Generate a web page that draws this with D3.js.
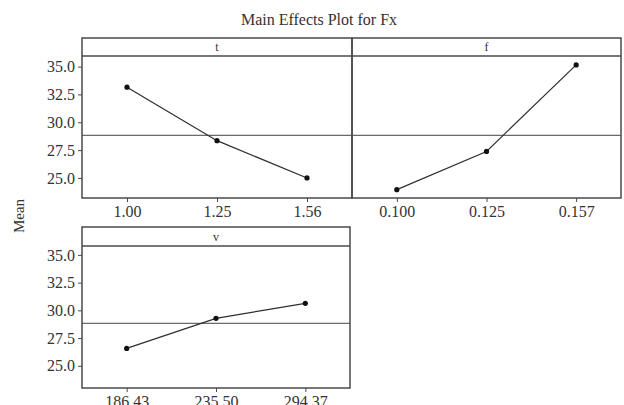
<!DOCTYPE html>
<html>
<head>
<meta charset="utf-8">
<script src="https://cdn.jsdelivr.net/npm/d3@7"></script>
<style>
  html, body { margin: 0; padding: 0; background: #fff; }
  svg { display: block; }
  text { font-family: "Liberation Serif", "DejaVu Serif", serif; fill: #333; }
</style>
</head>
<body>
<svg id="chart" width="624" height="405"></svg>
<script>
// Factor levels and the mean response at each level
const tLevels = ["1.00", "1.25", "1.56"];
const tMeans  = [33.15, 28.35, 25.0];

const fLevels = ["0.100", "0.125", "0.157"];
const fMeans  = [23.95, 27.38, 35.15];

const vLevels = ["186.43", "235.50", "294.37"];
const vMeans  = [26.57, 29.28, 30.63];

const yTicks = [25.0, 27.5, 30.0, 32.5, 35.0];

const grandMean = d3.mean(tMeans.concat(fMeans, vMeans));

const svg = d3.select("#chart");

svg.append("text")
  .attr("x", 319).attr("y", 25)
  .attr("text-anchor", "middle")
  .style("font-size", "16px")
  .text("Main Effects Plot for Fx");

svg.append("text")
  .attr("transform", "translate(24,216) rotate(-90)")
  .attr("text-anchor", "middle")
  .style("font-size", "15px")
  .text("Mean");

const panels = [
  { name: "t", levels: tLevels, means: tMeans, x0: 82,  x1: 352, top: 38,  strip: 18, bottom: 198, yDomain: [23.2, 35.95], yAxis: true },
  { name: "f", levels: fLevels, means: fMeans, x0: 352, x1: 621, top: 38,  strip: 18, bottom: 198, yDomain: [23.2, 35.95], yAxis: false },
  { name: "v", levels: vLevels, means: vMeans, x0: 82,  x1: 350, top: 227, strip: 19, bottom: 388, yDomain: [23.0, 35.8], yAxis: true }
];

const frame = "#4a4a4a";

panels.forEach(p => {
  const g = svg.append("g");
  const plotTop = p.top + p.strip;

  const x = d3.scalePoint().domain(p.levels).range([p.x0, p.x1]).padding(0.5);
  const y = d3.scaleLinear().domain(p.yDomain).range([p.bottom, plotTop]);

  // reference line at the grand mean
  g.append("line")
    .attr("x1", p.x0).attr("x2", p.x1)
    .attr("y1", y(grandMean)).attr("y2", y(grandMean))
    .attr("stroke", "#6a6a6a").attr("stroke-width", 1.3);

  // y axis
  if (p.yAxis) {
    const ya = g.append("g")
      .attr("transform", `translate(${p.x0},0)`)
      .call(d3.axisLeft(y).tickValues(yTicks).tickFormat(d3.format(".1f")).tickSize(4).tickPadding(3));
    ya.select(".domain").remove();
    ya.selectAll("line").attr("stroke", frame);
    ya.selectAll("text").style("font-size", "16px").style("font-family", "Liberation Serif, serif").attr("fill", "#3a3a3a");
  }

  // x axis
  const xa = g.append("g")
    .attr("transform", `translate(0,${p.bottom})`)
    .call(d3.axisBottom(x).tickSize(4).tickPadding(4));
  xa.select(".domain").remove();
  xa.selectAll("line").attr("stroke", frame);
  xa.selectAll("text").style("font-size", "16px").style("font-family", "Liberation Serif, serif").attr("fill", "#3a3a3a");

  // connecting line and level markers
  const pts = p.levels.map((l, i) => [x(l), y(p.means[i])]);
  g.append("path")
    .attr("d", d3.line()(pts))
    .attr("fill", "none").attr("stroke", "#2e2e2e").attr("stroke-width", 1.2);
  g.selectAll("circle.pt").data(pts).join("circle")
    .attr("class", "pt")
    .attr("cx", d => d[0]).attr("cy", d => d[1]).attr("r", 2.6)
    .attr("fill", "#111");

  // panel frame and strip
  g.append("rect")
    .attr("x", p.x0).attr("y", p.top)
    .attr("width", p.x1 - p.x0).attr("height", p.bottom - p.top)
    .attr("fill", "none").attr("stroke", frame).attr("stroke-width", 1.5);
  g.append("line")
    .attr("x1", p.x0).attr("x2", p.x1)
    .attr("y1", plotTop).attr("y2", plotTop)
    .attr("stroke", frame).attr("stroke-width", 1.5);
  g.append("text")
    .attr("x", (p.x0 + p.x1) / 2).attr("y", p.top + p.strip / 2 + 4)
    .attr("text-anchor", "middle")
    .style("font-size", "12px")
    .text(p.name);
});
</script>
</body>
</html>
